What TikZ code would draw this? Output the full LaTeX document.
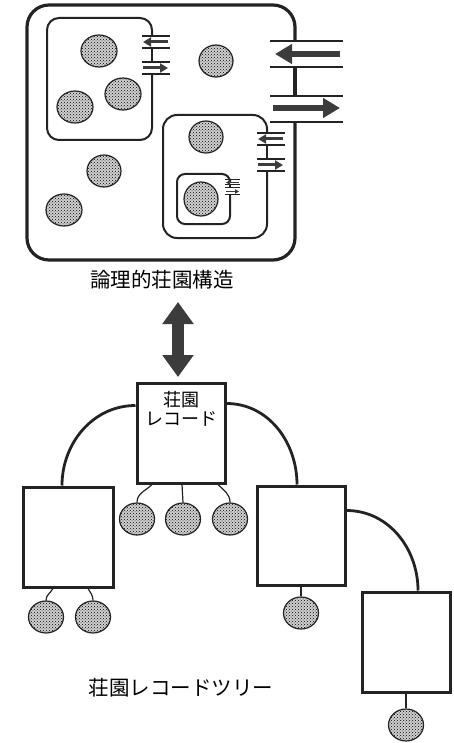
\documentclass[tikz,border=0pt]{standalone}
\usepackage{fontspec}
\newfontfamily\jpfont{Noto Sans CJK JP}
\usetikzlibrary{shapes.geometric, arrows.meta, patterns, positioning}
\definecolor{Tinta}{RGB}{35, 35, 35}
\definecolor{Flecha}{RGB}{60, 60, 60}

\begin{document}
\begin{tikzpicture}[x=1pt, y=-1pt,
        outerwall/.style={line width=3.2pt, draw=Tinta},
        wall/.style={line width=2pt, draw=Tinta},
        gate/.style={line width=2.4pt, draw=Tinta},
        smallgate/.style={line width=1.5pt, draw=Tinta},
        tinygate/.style={line width=1pt, draw=Tinta},
        bigflow/.style={line width=6pt, draw=Flecha, -{Triangle[length=17pt, width=19pt]}},
        smallflow/.style={line width=3pt, draw=Flecha, -{Triangle[length=8pt, width=9pt]}},
        tinyflow/.style={line width=1.2pt, draw=Flecha, -{Triangle[length=4pt, width=4.5pt]}},
        dualflow/.style={line width=12pt, draw=Flecha, {Triangle[length=22pt, width=30pt]}-{Triangle[length=22pt, width=30pt]}},
        dotcirc/.style={draw=Tinta, line width=1.2pt, preaction={fill=black!18}, pattern=crosshatch dots, pattern color=black},
        recbox/.style={draw=Tinta, line width=3pt, fill=white, minimum width=88pt, minimum height=100pt, inner sep=0pt},
        recdot/.style={ellipse, draw=Tinta, line width=1.2pt, preaction={fill=black!18}, pattern=crosshatch dots, pattern color=black, minimum width=35pt, minimum height=32pt, inner sep=0pt},
        branch/.style={line width=2.8pt, draw=Tinta},
        twig/.style={line width=1.2pt, draw=Tinta},
        caption/.style={font=\jpfont\fontsize{20.5pt}{24pt}\selectfont, inner sep=0pt}
    ]
        \useasboundingbox (0,0) rectangle (454,743);

        % Estructura logica: caja exterior con dos puertas en la pared derecha
        \draw[outerwall, rounded corners=22pt] (295,41) -- (295,5) -- (27,5) -- (27,260) -- (295,260) -- (295,122);
        \draw[outerwall] (295,67) -- (295,96);
        \draw[gate] (270,41) -- (343,41);
        \draw[gate] (270,67) -- (343,67);
        \draw[gate] (270,96) -- (343,96);
        \draw[gate] (270,122) -- (343,122);
        \draw[bigflow] (340,54) -- (275,54);
        \draw[bigflow] (273,108) -- (340,108);

        % Caja interior izquierda
        \draw[wall, rounded corners=12pt] (152,36) -- (152,18) -- (47,18) -- (47,140) -- (152,140) -- (152,74);
        \draw[wall] (152,48) -- (152,62);
        \draw[smallgate] (142,36) -- (170,36);
        \draw[smallgate] (142,48) -- (170,48);
        \draw[smallgate] (142,62) -- (170,62);
        \draw[smallgate] (142,74) -- (170,74);
        \draw[smallflow] (168,42) -- (143,42);
        \draw[smallflow] (143,68) -- (168,68);

        % Caja interior derecha
        \draw[wall, rounded corners=14pt] (267,133) -- (267,115) -- (163,115) -- (163,238) -- (267,238) -- (267,171);
        \draw[wall] (267,145) -- (267,159);
        \draw[smallgate] (257,133) -- (285,133);
        \draw[smallgate] (257,145) -- (285,145);
        \draw[smallgate] (257,159) -- (285,159);
        \draw[smallgate] (257,171) -- (285,171);
        \draw[smallflow] (283,139) -- (258,139);
        \draw[smallflow] (258,165) -- (283,165);

        % Caja mas interna
        \draw[wall, rounded corners=8pt] (230,180) -- (230,174) -- (177,174) -- (177,224) -- (230,224) -- (230,195);
        \draw[wall] (230,185) -- (230,188);
        \draw[tinygate] (225,180) -- (240,180);
        \draw[tinygate] (225,185) -- (240,185);
        \draw[tinygate] (225,188) -- (240,188);
        \draw[tinygate] (225,195) -- (240,195);
        \draw[tinyflow] (239,182.5) -- (226,182.5);
        \draw[tinyflow] (226,191.5) -- (239,191.5);

        % Registros
        \draw[dotcirc] (99,51) ellipse [x radius=18pt, y radius=16pt];
        \draw[dotcirc] (123,94) ellipse [x radius=18pt, y radius=16pt];
        \draw[dotcirc] (75,107) ellipse [x radius=18pt, y radius=16pt];
        \draw[dotcirc] (216,61) ellipse [x radius=17pt, y radius=16pt];
        \draw[dotcirc] (104,171) ellipse [x radius=17pt, y radius=16pt];
        \draw[dotcirc] (64,210) ellipse [x radius=18pt, y radius=16pt];
        \draw[dotcirc] (206,137) ellipse [x radius=17pt, y radius=16pt];
        \draw[dotcirc] (201,199) ellipse [x radius=17pt, y radius=17pt];

        \node[caption] (title) at (162,280) {論理的荘園構造};

        % Flecha doble entre la estructura y el arbol
        \coordinate (dtop) at (178,302);
        \coordinate (dbot) at (178,377);
        \draw[dualflow] (dtop) -- (dbot);

        % Arbol de registros
        \node[recbox] (root) at (181,433) {};
        \node[font=\jpfont\fontsize{18pt}{19pt}\selectfont, align=center, anchor=north, inner sep=0pt] (roottext) at ([yshift=-10pt]root.north) {荘園\\レコード};
        \node[recbox, minimum width=90pt] (lbox) at (68,537) {};
        \node[recbox, minimum height=99pt] (mbox) at (301,535.5) {};
        \node[recbox] (rbox) at (406,642) {};

        \draw[branch] ([yshift=-24pt]root.north west) to[out=180, in=90] ([xshift=-6pt]lbox.north);
        \draw[branch] ([yshift=-22pt]root.north east) to[out=0, in=90] ([xshift=-4pt]mbox.north);
        \draw[branch] ([yshift=-26pt]mbox.north east) to[out=0, in=90] ([xshift=12pt]rbox.north);

        % Registros del arbol
        \node[recdot] (rc1) at (137,519) {};
        \node[recdot] (rc2) at (183,519) {};
        \node[recdot] (rc3) at (230,519) {};
        \node[recdot] (lc1) at (46,617) {};
        \node[recdot] (lc2) at (93,617) {};
        \node[recdot] (mc1) at (301,613) {};
        \node[recdot] (rc) at (406,725) {};

        \draw[twig] ([xshift=-29pt]root.south) to[out=-135, in=90] (rc1.north);
        \draw[twig] ([xshift=1pt]root.south) -- (rc2.north);
        \draw[twig] ([xshift=37pt]root.south) to[out=-45, in=90] (rc3.north);
        \draw[twig] ([xshift=-15pt]lbox.south) to[out=-120, in=90] (lc1.north);
        \draw[twig] ([xshift=20pt]lbox.south) to[out=-60, in=90] (lc2.north);
        \draw[twig] (mbox.south) -- (mc1.north);
        \draw[twig] (rbox.south) -- (rc.north);

        \node[caption] (treetitle) at (181,688) {荘園レコードツリー};
    \end{tikzpicture}
\end{document}
